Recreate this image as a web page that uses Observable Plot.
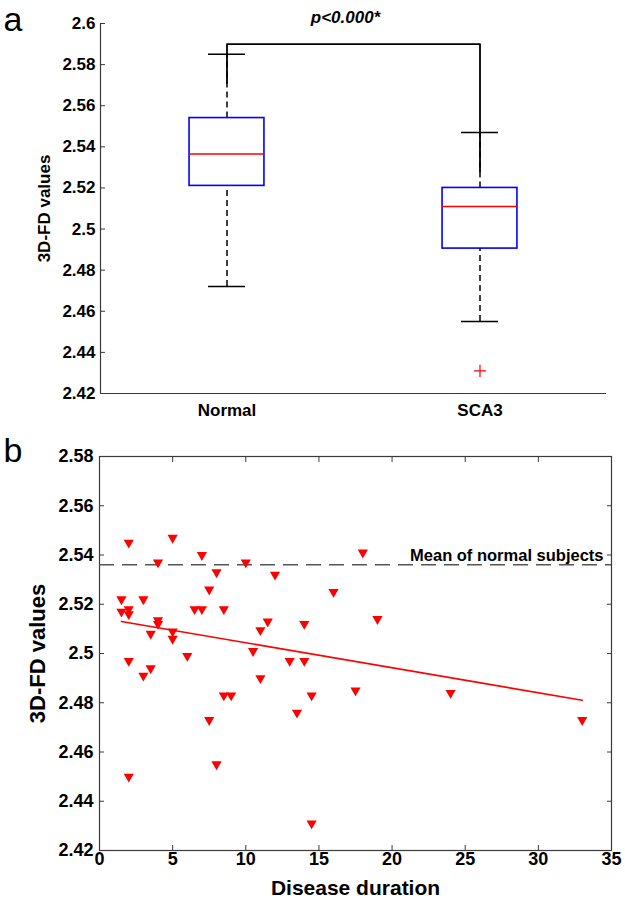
<!DOCTYPE html>
<html><head><meta charset="utf-8">
<script src="https://cdn.jsdelivr.net/npm/d3@7"></script>
<script src="https://cdn.jsdelivr.net/npm/@observablehq/plot@0.6"></script>
<style>body{margin:0;background:#fff} svg{display:block}</style>
</head><body><div id="chart"></div>
<script>
// ---- Panel a: box plots ----
const groups = ["Normal", "SCA3"];
const groupPos = [1, 2];
const whiskerLow = [2.472, 2.455];
const q1 = [2.521, 2.4905];
const median = [2.5365, 2.511];
const q3 = [2.554, 2.520];
const whiskerHigh = [2.585, 2.547];
const outlierPos = [2];
const outlierValue = [2.431];
const bracketX = [1, 1, 2, 2];
const bracketY = [2.571, 2.59, 2.59, 2.528];
const pLabel = "p<0.000*";
const yTicksA = [2.42, 2.44, 2.46, 2.48, 2.5, 2.52, 2.54, 2.56, 2.58, 2.6];

// ---- Panel b: scatter ----
const duration = [1.5, 1.5, 2, 2, 2, 2, 2, 3, 3, 3.5, 3.5, 4, 4, 4, 5, 5, 5, 6, 6.5, 7, 7, 7.5, 7.5, 8, 8, 8.5, 8.5, 9, 10, 10.5, 11, 11, 11.5, 12, 13, 13.5, 14, 14, 14.5, 14.5, 16, 17.5, 18, 19, 24, 33];
const fdValues = [2.522, 2.517, 2.545, 2.518, 2.516, 2.497, 2.450, 2.522, 2.491, 2.508, 2.494, 2.537, 2.5135, 2.512, 2.547, 2.509, 2.506, 2.499, 2.518, 2.540, 2.518, 2.526, 2.473, 2.533, 2.455, 2.518, 2.483, 2.483, 2.537, 2.501, 2.5095, 2.490, 2.513, 2.532, 2.497, 2.476, 2.512, 2.497, 2.483, 2.431, 2.525, 2.485, 2.541, 2.514, 2.484, 2.473];
const fitX = [1.5, 33];
const fitY = [2.513, 2.481];
const normalMean = 2.536;
const meanLabel = "Mean of normal subjects";
const xTicksB = [0, 5, 10, 15, 20, 25, 30, 35];
const yTicksB = [2.42, 2.44, 2.46, 2.48, 2.5, 2.52, 2.54, 2.56, 2.58];
const yLabel = "3D-FD values";
const xLabel = "Disease duration";

const fmt = d => String(+d.toFixed(2));
const FONT = "'Liberation Sans', Arial, sans-serif";
const AX = "#3a3a3a";

const boxes = groups.map((g, i) => ({g, x: groupPos[i], lo: whiskerLow[i], q1: q1[i], med: median[i], q3: q3[i], hi: whiskerHigh[i]}));
const halfBox = 0.148, halfCap = 0.073;

const plotA = Plot.plot({
  width: 625, height: 430,
  marginLeft: 100, marginRight: 19, marginTop: 23, marginBottom: 37,
  style: {fontFamily: FONT, fontWeight: "bold", color: "#000", background: "#fff"},
  x: {type: "linear", domain: [0.5, 2.5]},
  y: {domain: [2.42, 2.6]},
  marks: [
    Plot.ruleX([0.5], {stroke: AX, strokeWidth: 1.2}),
    Plot.ruleY([2.42], {stroke: AX, strokeWidth: 1.2}),
    Plot.axisY({ticks: yTicksA, tickFormat: fmt, tickSize: -5, tickPadding: 10, fontSize: 17, label: null, stroke: AX}),
    Plot.axisX({ticks: groupPos, tickFormat: d => groups[d - 1], tickSize: 0, tickPadding: 10, fontSize: 17, label: null}),
    Plot.text([yLabel], {frameAnchor: "left", textAnchor: "middle", rotate: -90, dx: -56, fontSize: 17, text: d => d}),
    Plot.text(["a"], {frameAnchor: "top-left", dx: -97, dy: -2.9, lineAnchor: "middle", textAnchor: "start", fontSize: 34, fontWeight: "normal", text: d => d}),
    // whiskers (dashed)
    Plot.ruleX(boxes, {x: "x", y1: "q3", y2: "hi", stroke: "#000", strokeWidth: 1.5, strokeDasharray: "6,4"}),
    Plot.ruleX(boxes, {x: "x", y1: "lo", y2: "q1", stroke: "#000", strokeWidth: 1.5, strokeDasharray: "6,4"}),
    // caps
    Plot.ruleY(boxes, {y: "hi", x1: d => d.x - halfCap, x2: d => d.x + halfCap, stroke: "#000", strokeWidth: 1.5}),
    Plot.ruleY(boxes, {y: "lo", x1: d => d.x - halfCap, x2: d => d.x + halfCap, stroke: "#000", strokeWidth: 1.5}),
    // boxes
    Plot.rect(boxes, {x1: d => d.x - halfBox, x2: d => d.x + halfBox, y1: "q1", y2: "q3", fill: "none", stroke: "#0000ff", strokeWidth: 1.6}),
    Plot.ruleY(boxes, {y: "med", x1: d => d.x - halfBox, x2: d => d.x + halfBox, stroke: "#ff0000", strokeWidth: 1.6}),
    // outlier
    Plot.dot(outlierValue.map((v, i) => ({x: outlierPos[i], y: v})), {x: "x", y: "y", symbol: "plus", r: 4, stroke: "#ff0000", strokeWidth: 1.2}),
    // significance bracket
    Plot.line(bracketX.map((x, i) => ({x, y: bracketY[i]})), {x: "x", y: "y", stroke: "#000", strokeWidth: 1.8}),
    Plot.text([{x: 1.5, y: 2.6, t: pLabel}], {x: "x", y: "y", text: "t", dx: -8, dy: -1, lineAnchor: "bottom", fontStyle: "italic", fontSize: 17})
  ]
});

const pts = duration.map((d, i) => ({x: d, y: fdValues[i]}));
const fit = fitX.map((x, i) => ({x, y: fitY[i]}));

const plotB = Plot.plot({
  width: 625, height: 470,
  marginLeft: 99, marginRight: 14, marginTop: 26, marginBottom: 50,
  style: {fontFamily: FONT, fontWeight: "bold", color: "#000", background: "#fff"},
  x: {domain: [0, 35]},
  y: {domain: [2.42, 2.58]},
  marks: [
    Plot.frame({stroke: AX, strokeWidth: 1.2}),
    Plot.axisY({ticks: yTicksB, tickFormat: fmt, tickSize: -5, tickPadding: 11, fontSize: 18, label: null, stroke: AX}),
    Plot.axisY({anchor: "right", ticks: yTicksB, tickFormat: () => "", tickSize: -5, label: null, stroke: AX}),
    Plot.axisX({ticks: xTicksB, tickSize: -5, tickPadding: 7, fontSize: 18, label: null, stroke: AX}),
    Plot.axisX({anchor: "top", ticks: xTicksB, tickFormat: () => "", tickSize: -5, label: null, stroke: AX}),
    Plot.text([yLabel], {frameAnchor: "left", textAnchor: "middle", rotate: -90, dx: -62, fontSize: 22, text: d => d}),
    Plot.text([xLabel], {frameAnchor: "bottom", dy: 38, lineAnchor: "middle", fontSize: 21, text: d => d}),
    Plot.text(["b"], {frameAnchor: "top-left", dx: -96, dy: -4.9, lineAnchor: "middle", textAnchor: "start", fontSize: 34, fontWeight: "normal", text: d => d}),
    Plot.ruleY([normalMean], {stroke: "#555", strokeWidth: 1.5, strokeDasharray: "15,8"}),
    Plot.text([{y: normalMean, t: meanLabel}], {y: "y", text: "t", frameAnchor: "right", textAnchor: "end", lineAnchor: "bottom", dx: -8, dy: -4, fontSize: 16.5}),
    Plot.line(fit, {x: "x", y: "y", stroke: "#ff0000", strokeWidth: 1.6}),
    Plot.dot(pts, {x: "x", y: "y", symbol: "triangle", rotate: 180, r: 3.8, fill: "#ff0000", stroke: "none"})
  ]
});

const c = document.getElementById("chart");
c.appendChild(plotA);
c.appendChild(plotB);
</script>
</body></html>
